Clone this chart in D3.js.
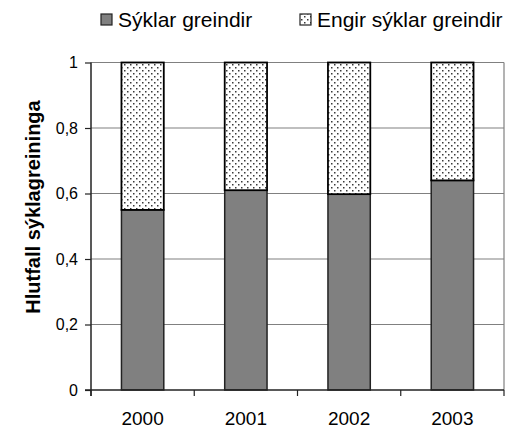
<!DOCTYPE html>
<html><head><meta charset="utf-8">
<script src="https://cdn.jsdelivr.net/npm/d3@7"></script>
<style>body{margin:0;background:#fff}svg{display:block}</style>
</head><body><svg id="c" width="510" height="430"></svg>
<script>
const years = ["2000","2001","2002","2003"];
const syklar = [0.55, 0.61, 0.598, 0.64];
const engir = [0.45, 0.39, 0.402, 0.36];
const yTicks = [0, 0.2, 0.4, 0.6, 0.8, 1];
const seriesNames = ["Sýklar greindir", "Engir sýklar greindir"];
const yTitle = "Hlutfall sýklagreininga";

const svg = d3.select("#c");
const font = "Liberation Sans, Arial, sans-serif";
const m = {l: 91, r: 504, t: 62.5, b: 390};
const x = d3.scaleBand().domain(years).range([m.l, m.r]).paddingInner(0.59).paddingOuter(0.295);
const y = d3.scaleLinear().domain([0, 1]).range([m.b, m.t]);

const defs = svg.append("defs");
const pat = defs.append("pattern").attr("id","dots").attr("patternUnits","userSpaceOnUse")
  .attr("width",6).attr("height",6);
pat.append("rect").attr("width",6).attr("height",6).attr("fill","#fff");
pat.append("rect").attr("x",1).attr("y",1).attr("width",1.5).attr("height",1.5).attr("fill","#3a3a3a");
pat.append("rect").attr("x",4).attr("y",4).attr("width",1.5).attr("height",1.5).attr("fill","#3a3a3a");

// gridlines
svg.append("g").selectAll("line").data(yTicks.filter(d=>d>0)).join("line")
  .attr("x1", m.l).attr("x2", m.r).attr("y1", d=>y(d)).attr("y2", d=>y(d))
  .attr("stroke","#808080").attr("stroke-width",1.2);
// right border
svg.append("line").attr("x1",m.r).attr("x2",m.r).attr("y1",m.t).attr("y2",m.b)
  .attr("stroke","#808080").attr("stroke-width",1.2);

// bars
const g = svg.append("g");
years.forEach((yr,i)=>{
  g.append("rect").attr("x",x(yr)).attr("width",x.bandwidth())
    .attr("y",y(syklar[i])).attr("height",y(0)-y(syklar[i]))
    .attr("fill","#808080").attr("stroke","#222").attr("stroke-width",1.5);
  g.append("rect").attr("x",x(yr)).attr("width",x.bandwidth())
    .attr("y",y(syklar[i]+engir[i])).attr("height",y(syklar[i])-y(syklar[i]+engir[i]))
    .attr("fill","url(#dots)").attr("stroke","#000").attr("stroke-width",1.8);
});

// y axis
const ya = svg.append("g").attr("transform",`translate(${m.l},0)`)
  .call(d3.axisLeft(y).tickValues(yTicks).tickSize(6).tickPadding(7)
    .tickFormat(d=>d3.format("~g")(d).replace(".",",")));
ya.select(".domain").attr("stroke","#222").attr("stroke-width",1.5).attr("d",`M-0,${m.t}V${m.b+6}`);
ya.selectAll(".tick line").attr("stroke","#222").attr("stroke-width",1.2);
ya.selectAll("text").attr("font-family",font).attr("font-size",16).attr("fill","#000");

// x axis
const xa = svg.append("g").attr("transform",`translate(0,${m.b})`);
xa.append("line").attr("x1",m.l-6).attr("x2",m.r).attr("stroke","#222").attr("stroke-width",1.5);
const bounds = years.map((d,i)=>m.l + i*(m.r-m.l)/years.length).concat([m.r]);
xa.selectAll("line.t").data(bounds).join("line").attr("class","t")
  .attr("x1",d=>d).attr("x2",d=>d).attr("y1",0).attr("y2",6).attr("stroke","#222").attr("stroke-width",1.2);
xa.selectAll("text").data(years).join("text")
  .attr("x",d=>x(d)+x.bandwidth()/2).attr("y",35).attr("text-anchor","middle")
  .attr("font-family",font).attr("font-size",19).text(d=>d);

// y title
svg.append("text").attr("transform",`translate(40,207) rotate(-90)`).attr("text-anchor","middle")
  .attr("font-family",font).attr("font-size",20).attr("font-weight","bold").text(yTitle);

// legend
const lg = svg.append("g");
const lx = [101, 300];
seriesNames.forEach((n,i)=>{
  lg.append("rect").attr("x",lx[i]).attr("y",14).attr("width",11).attr("height",11)
    .attr("fill", i===0 ? "#808080" : "url(#dots)").attr("stroke","#222").attr("stroke-width",1.2);
  lg.append("text").attr("x",lx[i]+17).attr("y",27).attr("font-family",font).attr("font-size",21).text(n);
});
</script></body></html>
